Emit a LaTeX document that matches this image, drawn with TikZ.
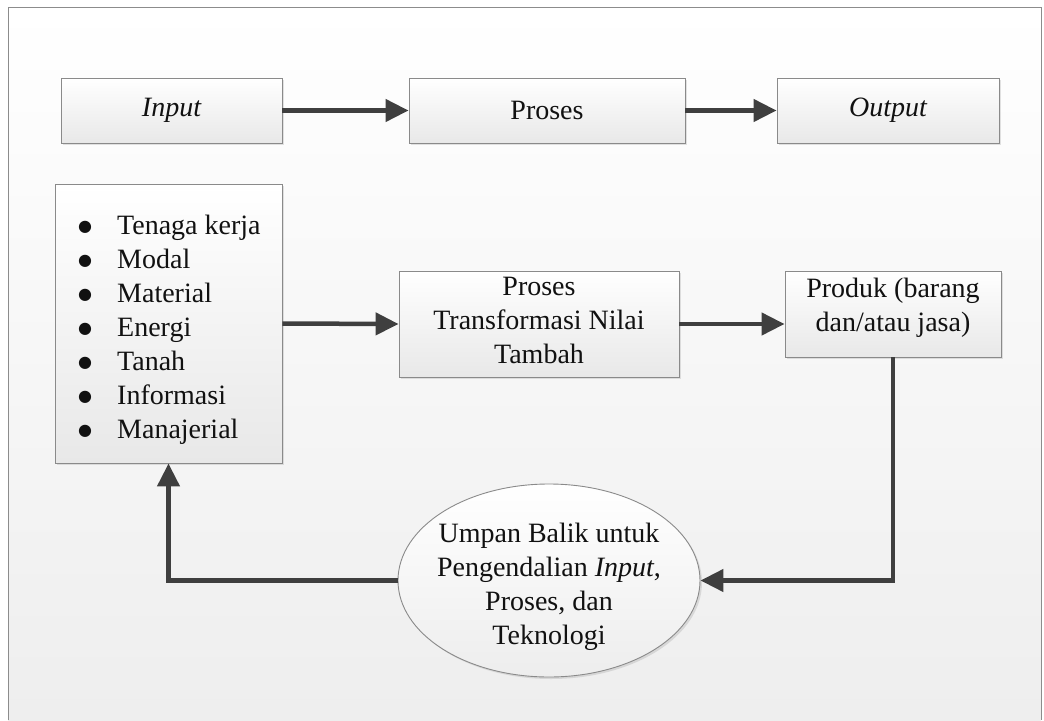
\documentclass[tikz,border=0pt]{standalone}
\usepackage{fontspec}
\setmainfont{Liberation Serif}
\newfontfamily\symfnt{DejaVu Sans}
\usetikzlibrary{arrows.meta,shapes.geometric,shadows}
\definecolor{arrowgray}{HTML}{3F3F3F}
\definecolor{boxline}{HTML}{8A8A8A}
\definecolor{txt}{HTML}{111111}
\definecolor{bgbottom}{HTML}{EEEEEE}
\newcommand\blt{\makebox[39pt][l]{\raisebox{2.5pt}{\symfnt\fontsize{16}{16}\selectfont ●}}}
\begin{document}
\begin{tikzpicture}[x=1pt,y=-1pt,
  box/.style={draw=boxline, line width=0.9pt, top color=white, bottom color=black!9,
    inner sep=0pt, text=txt, font=\fontsize{28}{34}\selectfont, align=center,
    drop shadow={opacity=0.22, shadow xshift=2pt, shadow yshift=-2pt}},
  lbl/.style={text=txt, font=\fontsize{28}{34}\selectfont, inner sep=0pt},
  arr/.style={draw=arrowgray, line width=4.5pt, -{Triangle[length=23pt,width=22pt]}}
]
% page and frame
\fill[white] (0,0) rectangle (1044,717);
\shade[top color=white, bottom color=bgbottom] (8,7) rectangle (1041,720);
\draw[black!45, line width=1pt] (8,720) -- (8,7) -- (1041,7) -- (1041,720);
\useasboundingbox (0,0) rectangle (1044,717);

% top row
\node[box, minimum width=221pt, minimum height=65pt] (input) at (171.5,110.5) {\itshape Input};
\node[box, minimum width=276pt, minimum height=65pt] (proses) at (547,110.5) {Proses};
\node[box, minimum width=222pt, minimum height=65pt] (output) at (888,110.5) {\itshape Output};

% middle row
\node[box, minimum width=227pt, minimum height=279pt] (inputs) at (168.5,323.5) {};
\node[lbl, anchor=north west, align=left] (inputlist) at (78,214.6)
  {\blt Tenaga kerja\\ \blt Modal\\ \blt Material\\ \blt Energi\\ \blt Tanah\\ \blt Informasi\\ \blt Manajerial};
\node[box, minimum width=280pt, minimum height=106pt] (transform) at (539,324)
  {Proses\\ Transformasi Nilai\\ Tambah\rule[-8pt]{0pt}{1pt}};
\node[box, minimum width=216pt, minimum height=86pt] (produk) at (893,314)
  {Produk (barang\\ dan/atau jasa)\rule[-19pt]{0pt}{1pt}};

% feedback ellipse
\node[ellipse, draw=boxline, line width=0.9pt, top color=white, bottom color=black!7,
  minimum width=302pt, minimum height=193pt, inner sep=0pt,
  drop shadow={opacity=0.22, shadow xshift=2pt, shadow yshift=-2pt}] (fb) at (549,580.5) {};
\node[lbl, align=center, anchor=north] (fbtext) at (549,522.9)
  {Umpan Balik untuk\\ Pengendalian \textit{Input},\\ Proses, dan\\ Teknologi};

% connectors
\draw[arr] (input.east) -- (proses.west);
\draw[arr] (proses.east) -- (output.west);
\draw[arr] (inputs.east) -- (transform.west);
\draw[arr] (transform.east) -- (transform.east -| produk.west);
\draw[arr] (produk.south) |- (fb.east);
\draw[arr] (fb.west) -| (inputs.south);
\end{tikzpicture}
\end{document}
